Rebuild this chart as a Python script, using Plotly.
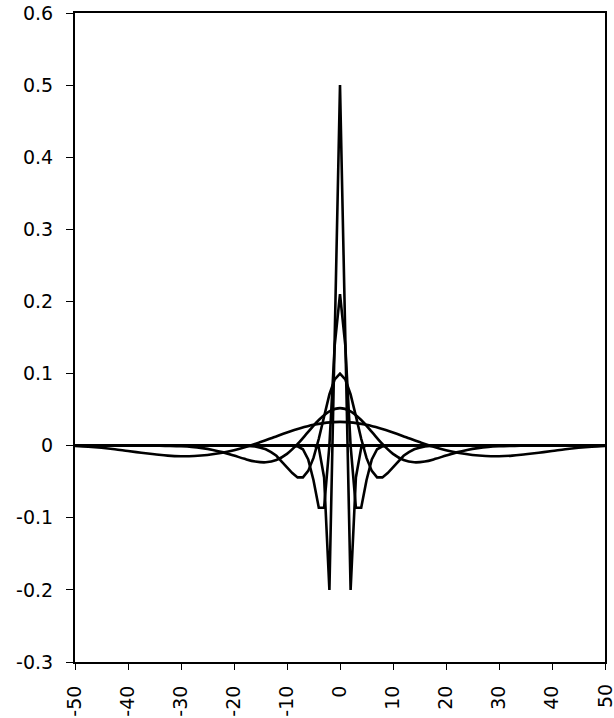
import plotly.graph_objects as go

# ---- data (symmetric wavelet family) ----
x1 = [-5, -4, -3, -2, -1, 0, 1, 2, 3, 4, 5]
s1 = [0.0, -0.003, -0.044, -0.2, 0.15, 0.5, 0.15, -0.2, -0.044, -0.003, 0.0]

x2 = [-9, -8, -7, -6, -5, -4, -3, -2, -1, 0, 1, 2, 3, 4, 5, 6, 7, 8, 9]
s2 = [0.0, -0.001, -0.005, -0.019, -0.048, -0.086, -0.086, 0.0, 0.139, 0.21,
      0.139, 0.0, -0.086, -0.086, -0.048, -0.019, -0.005, -0.001, 0.0]

x3 = list(range(-18, 19))
s3_half = [0.100, 0.092, 0.071, 0.041, 0.0096, -0.017, -0.035, -0.044, -0.044,
           -0.038, -0.030, -0.022, -0.014, -0.009, -0.005, -0.003, -0.001, -0.0005, 0.0]
s3 = s3_half[:0:-1] + s3_half

x4 = list(range(-36, 37, 2))
s4_half = [0.052, 0.0476, 0.0356, 0.0191, 0.0023, -0.0114, -0.0199, -0.0231, -0.0220,
           -0.0183, -0.0137, -0.0093, -0.0059, -0.0034, -0.0018, -0.0009, -0.0004, -0.0002, 0.0]
s4 = s4_half[:0:-1] + s4_half

x5 = [v * 2.5 for v in range(-20, 21)]
s5_half = [0.033, 0.0319, 0.0289, 0.0241, 0.0182, 0.0116, 0.0050, -0.0012, -0.0063,
           -0.0103, -0.0130, -0.0144, -0.0147, -0.0138, -0.0118, -0.0098, -0.0075,
           -0.0050, -0.0030, -0.0015, -0.0005]
s5 = s5_half[:0:-1] + s5_half

x_ticks = [-50, -40, -30, -20, -10, 0, 10, 20, 30, 40, 50]
x_labels = ["-50", "-40", "-30", "-20", "-10", "0", "10", "20", "30", "40", "50"]
y_ticks = [0.6, 0.5, 0.4, 0.3, 0.2, 0.1, 0, -0.1, -0.2, -0.3]
y_labels = ["0.6", "0.5", "0.4", "0.3", "0.2", "0.1", "0", "-0.1", "-0.2", "-0.3"]

LW = 2.6
fig = go.Figure()
for xs, ys, shape in [(x5, s5, "spline"), (x4, s4, "spline"), (x3, s3, "linear"),
                      (x2, s2, "linear"), (x1, s1, "linear")]:
    fig.add_trace(go.Scatter(x=xs, y=ys, mode="lines",
                             line=dict(color="black", width=LW, shape=shape),
                             showlegend=False, hoverinfo="skip"))

font = dict(family="DejaVu Sans, Arial, sans-serif", size=19, color="black")

# the last x label sits on the page edge (plotly drops it as a tick label), so place it directly
fig.add_annotation(x=x_ticks[-1], xref="x", y=0, yref="paper", text=x_labels[-1],
                   textangle=-90, showarrow=False, xanchor="center", yanchor="middle",
                   yshift=-34, font=font)

fig.update_layout(
    width=614, height=718,
    margin=dict(l=75, r=9, t=13, b=56, autoexpand=False),
    paper_bgcolor="white", plot_bgcolor="white",
    showlegend=False,
    xaxis=dict(range=[-50, 50], tickvals=x_ticks, ticktext=x_labels, tickangle=-90,
               ticks="outside", ticklen=6, tickcolor="black", tickwidth=1,
               showline=True, linecolor="black", linewidth=2, mirror=True,
               showgrid=False, zeroline=False, tickfont=font, ticklabelstandoff=8,
               automargin=False),
    yaxis=dict(range=[-0.3, 0.6], tickvals=y_ticks, ticktext=y_labels,
               ticks="outside", ticklen=7, tickcolor="black", tickwidth=1,
               showline=True, linecolor="black", linewidth=2, mirror=True,
               showgrid=False, zeroline=True, zerolinecolor="black", zerolinewidth=2.5,
               tickfont=font, ticklabelstandoff=9, automargin=False),
)

fig.write_html("out.html", config={"displayModeBar": False, "staticPlot": True},
               post_script="document.body.style.margin='0';document.body.style.overflow='hidden';")
